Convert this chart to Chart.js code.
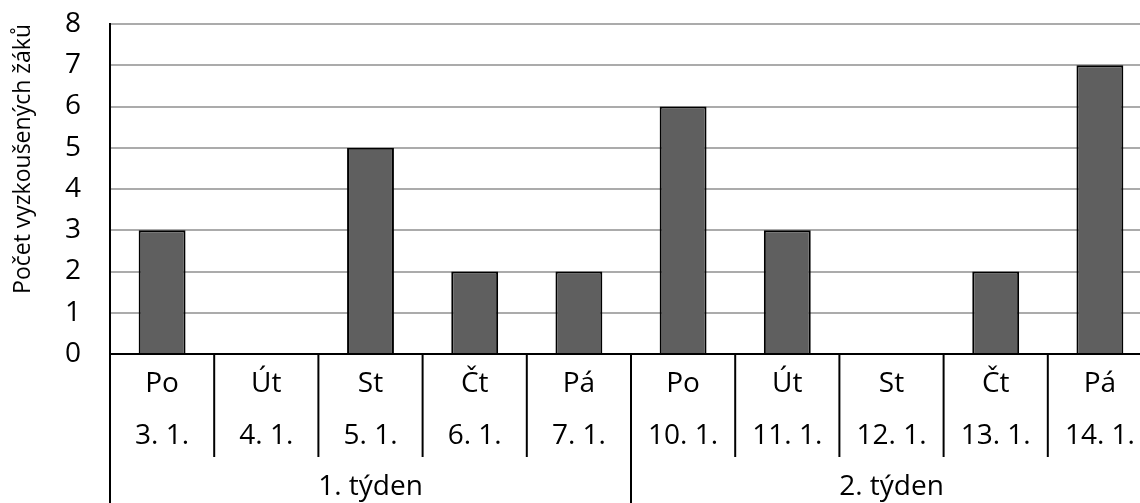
<!DOCTYPE html>
<html lang="cs">
<head>
<meta charset="utf-8">
<title>Počet vyzkoušených žáků</title>
<script src="https://cdn.jsdelivr.net/npm/chart.js@4/dist/chart.umd.min.js"></script>
<style>
    html, body { margin: 0; padding: 0; background: #fff; overflow: hidden; }
    #obal { position: relative; width: 1152px; height: 503px; }
</style>
</head>
<body>
<div id="obal"><canvas id="grafZkouseni"></canvas></div>
<script>
// === Data ===
const dny = ['Po', 'Út', 'St', 'Čt', 'Pá', 'Po', 'Út', 'St', 'Čt', 'Pá'];
const datumy = ['3. 1.', '4. 1.', '5. 1.', '6. 1.', '7. 1.', '10. 1.', '11. 1.', '12. 1.', '13. 1.', '14. 1.'];
const tydny = ['1. týden', '2. týden'];
const pocetZaku = [3, 0, 5, 2, 2, 6, 3, 0, 2, 7];
const dnuVTydnu = 5;

const pismo = "'Open Sans', sans-serif";
Chart.defaults.font.family = pismo;
Chart.defaults.color = '#000';

// svisle oddelovace pod osou x (dny kratke, tydny az dolu)
const oddelovace = {
    id: 'oddelovace',
    afterDraw(chart) {
        const osaX = chart.scales.x;
        const ctx = chart.ctx;
        const krok = osaX.getPixelForValue(1) - osaX.getPixelForValue(0);
        ctx.save();
        ctx.strokeStyle = '#000';
        ctx.lineWidth = 2;
        for (let i = 0; i <= dny.length; i++) {
            const x = osaX.getPixelForValue(0) - krok / 2 + i * krok;
            const konec = (i % dnuVTydnu === 0) ? chart.height : osaX.bottom;
            ctx.beginPath();
            ctx.moveTo(x, osaX.top);
            ctx.lineTo(x, konec);
            ctx.stroke();
        }
        ctx.restore();
    }
};

const ctx = document.getElementById('grafZkouseni').getContext('2d');
new Chart(ctx, {
    type: 'bar',
    data: {
        labels: dny.map((d, i) => [d, datumy[i]]),
        datasets: [{
            label: 'Počet vyzkoušených žáků',
            data: pocetZaku,
            backgroundColor: '#5f5f5f',
            borderColor: '#000',
            borderWidth: 2,
            borderSkipped: 'bottom',
            barPercentage: 0.45,
            categoryPercentage: 1,
            xAxisID: 'x'
        }]
    },
    options: {
        responsive: true,
        maintainAspectRatio: false,
        animation: false,
        layout: { padding: { top: 24, right: 0, bottom: 0, left: 0 } },
        plugins: {
            legend: { display: false },
            tooltip: { enabled: false }
        },
        scales: {
            x: {
                type: 'category',
                position: 'bottom',
                offset: true,
                grid: { display: false, drawTicks: false },
                border: { display: true, color: '#000', width: 2 },
                ticks: {
                    font: { size: 28, lineHeight: 52 / 28 },
                    padding: 4,
                    maxRotation: 0,
                    autoSkip: false
                },
                afterFit(scale) { scale.height = 103; }
            },
            x2: {
                type: 'category',
                position: 'bottom',
                labels: tydny,
                offset: true,
                grid: { display: false, drawTicks: false },
                border: { display: false },
                ticks: {
                    font: { size: 28 },
                    padding: 13,
                    maxRotation: 0
                },
                afterFit(scale) { scale.height = 46; }
            },
            y: {
                min: 0,
                max: 8,
                ticks: {
                    stepSize: 1,
                    font: { size: 28 },
                    padding: 29
                },
                grid: { color: '#ababab', lineWidth: 2, drawTicks: false },
                border: { display: true, color: '#000', width: 2 },
                title: {
                    display: true,
                    text: 'Počet vyzkoušených žáků',
                    align: 'end',
                    font: { size: 23 },
                    padding: { top: 10 }
                },
                afterFit(scale) {
                    scale.width = 110;
                    // padding ticku nema posouvat horni okraj grafu
                    scale.paddingTop = 0;
                    scale.paddingBottom = 0;
                }
            }
        }
    },
    plugins: [oddelovace]
});
</script>
</body>
</html>
